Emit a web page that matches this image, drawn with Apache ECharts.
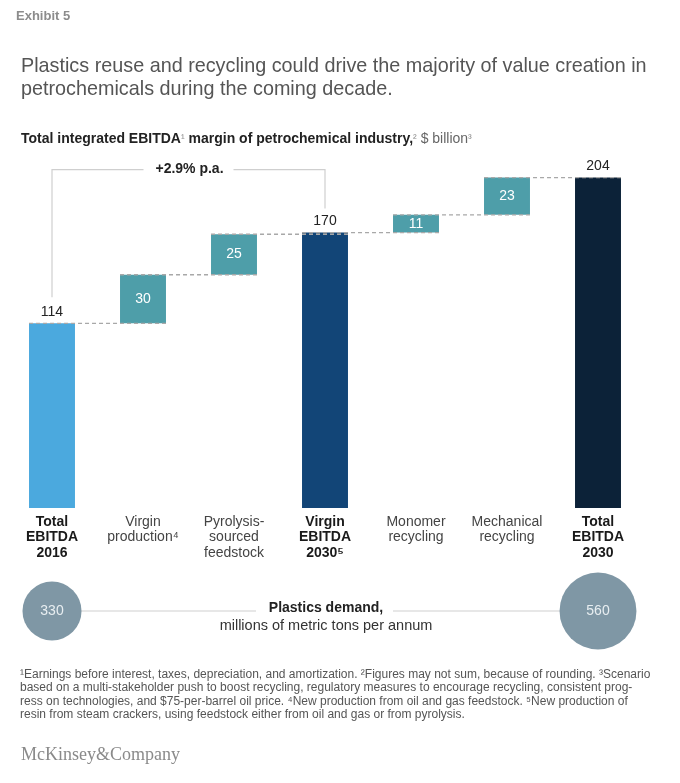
<!DOCTYPE html>
<html><head><meta charset="utf-8">
<script src="https://cdn.jsdelivr.net/npm/echarts/dist/echarts.min.js"></script>
<style>html,body{margin:0;padding:0;background:#fff}#c{width:680px;height:783px}</style>
</head><body><div id="c"></div><script>
// ---- data ----
const categories = ['Total\nEBITDA\n2016', 'Virgin\nproduction⁴', 'Pyrolysis-\nsourced\nfeedstock', 'Virgin\nEBITDA\n2030⁵', 'Monomer\nrecycling', 'Mechanical\nrecycling', 'Total\nEBITDA\n2030'];
const values = [114, 30, 25, 170, 11, 23, 204];
const barTypes = ['total', 'delta', 'delta', 'total', 'delta', 'delta', 'total'];
const demandIndex = [0, 6];
const demandValues = [330, 560];
const growthLabel = '+2.9% p.a.';
const growthFrom = 0, growthTo = 3;

// ---- derived ----
const bases = [], tops = [];
let running = 0;
values.forEach((v, i) => {
  if (barTypes[i] === 'total') { bases.push(0); running = v; }
  else { bases.push(running); running += v; }
  tops.push(running);
});
const barColors = ['#4BA9DE', '#4E9EA9', '#4E9EA9', '#124577', '#4E9EA9', '#4E9EA9', '#0C2238'];
const FONT = '"Liberation Sans", Arial, Helvetica, sans-serif';
const BARW = 0.505;

const chart = echarts.init(document.getElementById('c'), null, {renderer: 'canvas'});
const option = {
  backgroundColor: '#fff',
  animation: false,
  textStyle: {fontFamily: FONT},
  title: [
    {text: 'Exhibit 5', left: 16, top: 8, padding: 0, textStyle: {fontFamily: '"Liberation Sans Narrow", "Liberation Sans", Arial', fontSize: 13, fontWeight: 'bold', color: '#8c8c8c', lineHeight: 16}},
    {text: 'Plastics reuse and recycling could drive the majority of value creation in\npetrochemicals during the coming decade.', left: 21, top: 55.5, padding: 0,
     textStyle: {fontFamily: FONT, fontSize: 19.8, fontWeight: 'normal', color: '#555', lineHeight: 23}},
    {text: '{b|Total integrated EBITDA}{s|¹}{b| margin of petrochemical industry,}{s|²}{r| $ billion}{s|³}', left: 21, top: 131, padding: 0,
     textStyle: {fontWeight: 'normal', rich: {
       b: {fontFamily: FONT, fontSize: 14, fontWeight: 'bold', color: '#222', lineHeight: 16},
       r: {fontFamily: FONT, fontSize: 14, fontWeight: 'normal', color: '#666', lineHeight: 16},
       s: {fontFamily: FONT, fontSize: 11, fontWeight: 'normal', color: '#888', lineHeight: 16}
     }}},
    {text: '¹Earnings before interest, taxes, depreciation, and amortization. ²Figures may not sum, because of rounding. ³Scenario\nbased on a multi-stakeholder push to boost recycling, regulatory measures to encourage recycling, consistent prog-\nress on technologies, and $75-per-barrel oil price. ⁴New production from oil and gas feedstock. ⁵New production of\nresin from steam crackers, using feedstock either from oil and gas or from pyrolysis.',
     left: 20, top: 668, padding: 0, textStyle: {fontFamily: FONT, fontSize: 12, fontWeight: 'normal', color: '#555', lineHeight: 13.3}},
    {text: 'McKinsey&Company', left: 21, top: 745, padding: 0, textStyle: {fontFamily: '"Liberation Serif", "DejaVu Serif", serif', fontSize: 18, fontWeight: 'normal', color: '#8a8a8a', lineHeight: 20}}
  ],
  grid: [
    {left: 6.5, right: 36.5, top: 150, bottom: 275},
    {left: 6.5, right: 36.5, top: 571, height: 80}
  ],
  xAxis: [
    {type: 'category', gridIndex: 0, data: categories, axisLine: {show: false}, axisTick: {show: false},
     axisLabel: {interval: 0, margin: 6,
       formatter: (val, idx) => val.split('\n').map(l => '{' + (barTypes[idx] === 'total' ? 'b' : 'r') + '|' + l + '}').join('\n'),
       rich: {
         b: {fontFamily: FONT, fontSize: 14, fontWeight: 'bold', color: '#1a1a1a', lineHeight: 15.5},
         r: {fontFamily: FONT, fontSize: 14, color: '#444', lineHeight: 15.5}
       }}},
    {type: 'category', gridIndex: 1, data: categories, show: false}
  ],
  yAxis: [
    {type: 'value', gridIndex: 0, min: 0, max: 221, show: false, splitLine: {show: false}},
    {type: 'value', gridIndex: 1, min: 0, max: 1, show: false, splitLine: {show: false}}
  ],
  series: [
    {type: 'bar', stack: 'w', barWidth: (BARW * 100) + '%', silent: true,
     itemStyle: {color: 'rgba(0,0,0,0)'}, data: bases},
    {type: 'bar', stack: 'w', barWidth: (BARW * 100) + '%', z: 2,
     data: values.map((v, i) => ({
       value: v,
       itemStyle: {color: barColors[i]},
       label: barTypes[i] === 'total'
         ? {show: true, position: 'top', distance: 4, color: '#222', fontSize: 14, fontFamily: FONT}
         : {show: true, position: 'inside', color: '#fff', fontSize: 14, fontFamily: FONT}
     }))},
    {type: 'custom', z: 5, silent: true,
     data: tops.slice(0, -1).map((t, i) => [i, t]),
     encode: {x: 0, y: 1},
     renderItem: (params, api) => {
       const i = api.value(0), lvl = api.value(1);
       const bw = api.size([1, 0])[0] * BARW;
       const p1 = api.coord([i, lvl]), p2 = api.coord([i + 1, lvl]);
       return {type: 'line', shape: {x1: p1[0] - bw / 2, y1: p1[1], x2: p2[0] + bw / 2, y2: p2[1]},
               style: {stroke: '#a8a8a8', lineWidth: 1.3, lineDash: [4, 3]}};
     }},
    {type: 'custom', z: 5, silent: true,
     data: [[growthFrom, growthTo]],
     encode: {x: 0},
     renderItem: (params, api) => {
       const a = api.value(0), b = api.value(1);
       const pa = api.coord([a, tops[a]]), pb = api.coord([b, tops[b]]);
       const yTop = api.coord([a, Math.max(...tops)])[1] - 8;
       const mx = (pa[0] + pb[0]) / 2;
       const st = {stroke: '#cfcfcf', lineWidth: 1.2, fill: null};
       return {type: 'group', children: [
         {type: 'polyline', shape: {points: [[pa[0], pa[1] - 26], [pa[0], yTop], [mx - 45, yTop]]}, style: st},
         {type: 'polyline', shape: {points: [[mx + 45, yTop], [pb[0], yTop], [pb[0], pb[1] - 24]]}, style: st},
         {type: 'text', x: mx + 1, y: yTop, style: {text: growthLabel, fontFamily: FONT, fontSize: 14, fontWeight: 'bold', fill: '#222', align: 'center', verticalAlign: 'middle'}}
       ]};
     }},
    {type: 'custom', xAxisIndex: 1, yAxisIndex: 1, z: 1, silent: true,
     data: [[demandIndex[0], demandIndex[1]]],
     encode: {x: 0},
     renderItem: (params, api) => {
       const p0 = api.coord([api.value(0), 0.5]), p1 = api.coord([api.value(1), 0.5]);
       const mx = api.coord([3, 0.5])[0];
       const st = {stroke: '#cfcfcf', lineWidth: 1.2};
       return {type: 'group', children: [
         {type: 'line', shape: {x1: p0[0], y1: p0[1], x2: mx - 69, y2: p0[1]}, style: st},
         {type: 'line', shape: {x1: mx + 68, y1: p0[1], x2: p1[0], y2: p1[1]}, style: st},
         {type: 'text', x: mx + 1, y: p0[1] - 3, style: {text: 'Plastics demand,', fontFamily: FONT, fontSize: 14, fontWeight: 'bold', fill: '#222', align: 'center', verticalAlign: 'middle'}},
         {type: 'text', x: mx + 1, y: p0[1] + 15, style: {text: 'millions of metric tons per annum', fontFamily: FONT, fontSize: 14.5, fill: '#333', align: 'center', verticalAlign: 'middle'}}
       ]};
     }},
    {type: 'scatter', xAxisIndex: 1, yAxisIndex: 1, z: 3, silent: true,
     data: demandIndex.map((ix, k) => [ix, 0.5, demandValues[k]]),
     symbolSize: d => Math.sqrt(d[2]) * 3.25,
     itemStyle: {color: '#7F97A5', opacity: 1},
     label: {show: true, position: 'inside', formatter: p => String(p.value[2]), color: '#e8eef1', fontSize: 14, fontFamily: FONT}}
  ]
};
chart.setOption(option);
</script></body></html>
